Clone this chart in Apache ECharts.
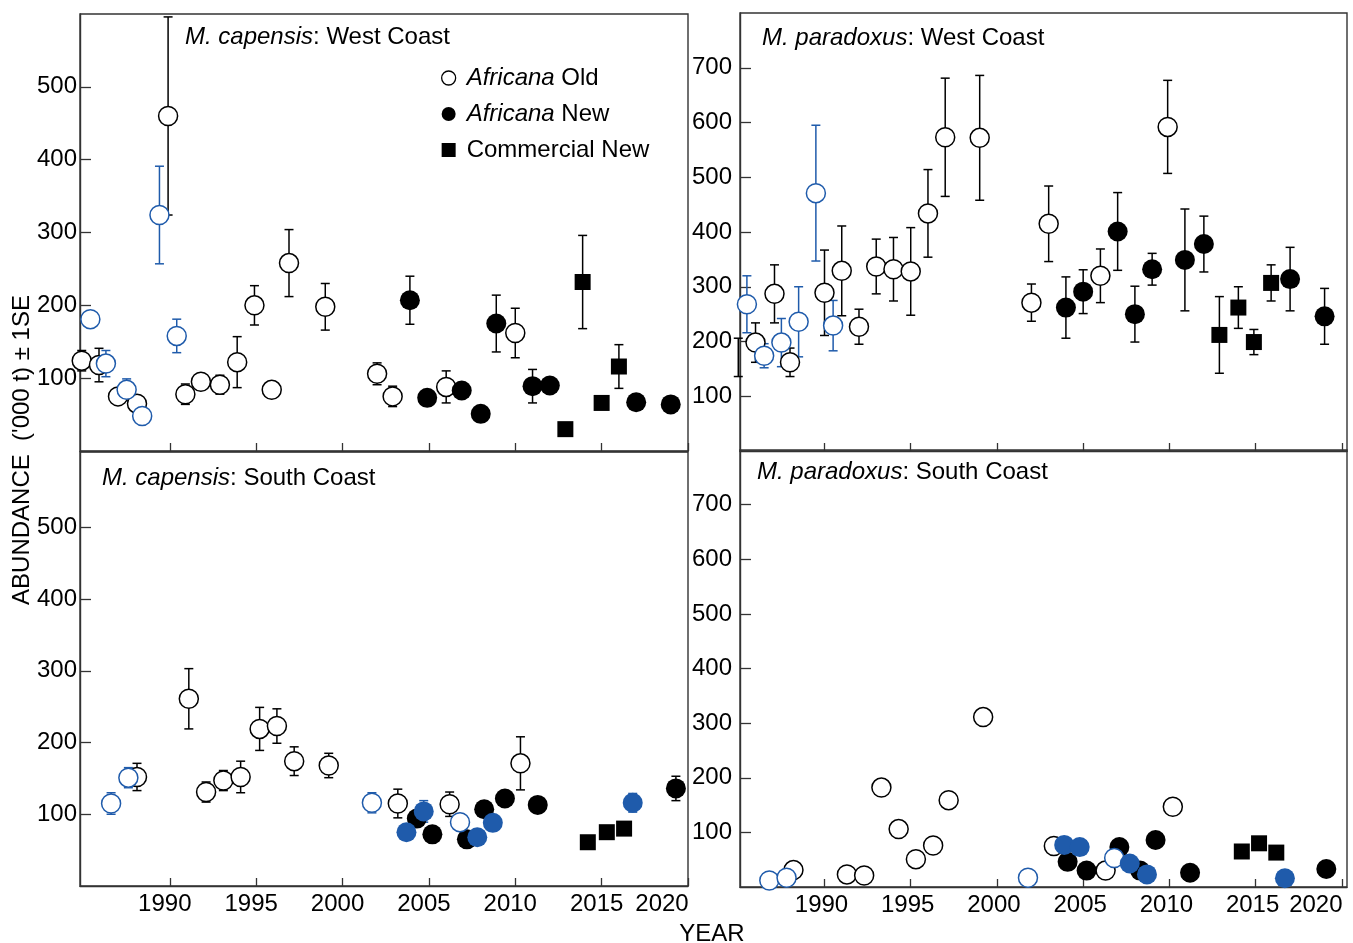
<!DOCTYPE html>
<html><head><meta charset="utf-8">
<script src="https://cdn.jsdelivr.net/npm/echarts@6/dist/echarts.min.js"></script>
<style>html,body{margin:0;padding:0;background:#fff}#c{width:1353px;height:943px}</style>
</head><body><div id="c"></div><script>
// ---------- DATA: [year, abundance ('000 t), 1SE] ----------
// M. capensis: West Coast
const capWestOld = [[1984.9,124,14],[1985.9,118,23],[1987.0,75,0],[1988.1,65,0],[1989.9,460,136],[1990.9,78,14],[1991.8,95,0],[1992.9,91,13],[1993.9,122,35],[1994.9,200,27],[1995.9,84,0],[1996.9,258,46],[1999.0,198,32],[2002.0,106,15],[2002.9,75,14],[2006.0,88,22],[2010.0,162,34]];
const capWestOldBlue = [[1985.4,181,0],[1986.3,120,18],[1987.5,84,15],[1988.4,48,0],[1989.4,324,67],[1990.4,158,23]];
const capWestNew = [[2003.9,207,33],[2004.9,73,0],[2006.9,83,0],[2008.0,51,0],[2008.9,175,39],[2011.0,89,23],[2012.0,90,0],[2017.0,67,0],[2019.0,64,0]];
const capWestCom = [[2012.9,30,0],[2013.9,232,64],[2015.0,66,0],[2016.0,116,30]];
// M. paradoxus: West Coast
const parWestOld = [[1985.0,171,35],[1986.0,198,36],[1987.1,287,53],[1988.0,162,26],[1990.0,289,78],[1991.0,329,82],[1992.0,227,32],[1993.0,337,50],[1994.0,332,58],[1995.0,328,80],[1996.0,434,80],[1997.0,573,108],[1999.0,572,114],[2002.0,271,34],[2003.0,415,69],[2006.0,320,49],[2009.9,592,85]];
const parWestOldBlue = [[1985.5,268,52],[1986.5,174,22],[1987.5,198,44],[1988.5,236,64],[1989.5,471,124],[1990.5,229,46]];
const parWestNew = [[2004.0,262,56],[2005.0,291,40],[2007.0,401,71],[2008.0,250,51],[2009.0,332,29],[2010.9,349,93],[2012.0,378,51],[2017.0,314,58],[2019.0,246,51]];
const parWestCom = [[2012.9,212,70],[2014.0,262,38],[2014.9,199,23],[2015.9,307,33]];
// M. capensis: South Coast
const capSouthOld = [[1988.1,152,19],[1991.1,261,42],[1992.1,131,14],[1993.1,147,14],[1994.1,152,22],[1995.2,219,30],[1996.2,223,24],[1997.2,174,20],[1999.2,168,17],[2003.2,115,20],[2006.2,114,17],[2010.3,171,37]];
const capSouthOldBlue = [[1986.6,115,15],[1987.6,151,14],[2001.7,116,14],[2006.8,89,0]];
const capSouthNew = [[2004.3,94,0],[2005.2,72,0],[2007.2,65,0],[2008.2,107,0],[2009.4,122,0],[2011.3,113,0],[2019.3,136,17]];
const capSouthNewBlue = [[2003.7,75,0],[2004.7,104,15],[2007.8,68,0],[2008.7,88,0],[2016.8,116,13]];
const capSouthCom = [[2014.2,61,0],[2015.3,75,0],[2016.3,80,0]];
// M. paradoxus: South Coast
const parSouthOld = [[1988.2,31],[1991.3,23],[1992.3,21],[1993.3,182],[1994.3,106],[1995.3,51],[1996.3,76],[1997.2,159],[1999.2,311],[2003.3,75],[2006.3,30],[2010.2,147]];
const parSouthOldBlue = [[1986.8,12],[1987.8,17],[2001.8,17],[2006.8,53]];
const parSouthNew = [[2004.1,46],[2005.2,30],[2007.1,73],[2008.3,30],[2009.2,86],[2011.2,26],[2019.1,33]];
const parSouthNewBlue = [[2003.9,77],[2004.8,73],[2007.7,43],[2008.7,23],[2016.7,16]];
const parSouthCom = [[2014.2,65],[2015.2,80],[2016.2,63]];

// tick labels
const xTickYears = [1990,1995,2000,2005,2010,2015,2020];
const yTicksCap = [100,200,300,400,500];
const yTicksPar = [100,200,300,400,500,600,700];
const panelTitles = [['M. capensis',': West Coast'],['M. paradoxus',': West Coast'],['M. capensis',': South Coast'],['M. paradoxus',': South Coast']];

// ---------- STYLE / LAYOUT ----------
const FONT = '"Liberation Sans", Arial, Helvetica, sans-serif';
const FS = 24;
const BLUE = '#1f5bab';
const AX = '#333';
const grids = [
  {left:80, top:14, width:608, height:437},
  {left:740, top:13, width:607, height:438},
  {left:80, top:452, width:608, height:434},
  {left:740, top:450, width:607, height:437}
];
const xRange = [[1984.8,2020],[1985.1,2020.3],[1984.8,2020],[1985.1,2020.3]];
const yMax = [600,800,605,800];
const yTicks = [yTicksCap,yTicksPar,yTicksCap,yTicksPar];
const titlePos = [[185,25],[762,26],[102,466],[757,460]];

const xAxes = grids.map((g,i)=>({
  gridIndex:i, type:'value', min:xRange[i][0], max:xRange[i][1],
  axisLine:{show:true, onZero:false, lineStyle:{color:AX, width:1.4}},
  splitLine:{show:false},
  axisTick:{show:true, inside:true, length:8, customValues:xTickYears, lineStyle:{color:AX, width:1.3}},
  axisLabel:{show:i>=2, customValues:xTickYears, margin:6, fontSize:FS, fontFamily:FONT, color:'#000',
    formatter:v=> v===2020 ? '{e|2020}' : '{t|'+v+'}',
    rich:{e:{padding:[0,52,0,0], fontSize:FS, fontFamily:FONT, color:'#000'},
          t:{padding:[0,i===2?10:6,0,0], fontSize:FS, fontFamily:FONT, color:'#000'}}}
}));
const yAxes = grids.map((g,i)=>({
  gridIndex:i, type:'value', min:0, max:yMax[i], interval:100,
  axisLine:{show:true, onZero:false, lineStyle:{color:AX, width:1.4}},
  splitLine:{show:false},
  axisTick:{show:true, inside:true, length:11, customValues:yTicks[i], lineStyle:{color:AX, width:1.3}},
  axisLabel:{customValues:yTicks[i], margin:i%2===0?3:8, fontSize:FS, fontFamily:FONT, color:'#000'}
}));

function errSeries(data, gi, color){
  return {type:'custom', xAxisIndex:gi, yAxisIndex:gi, z:2, silent:true, clip:false,
    data:data.filter(d=>d[2]>0), encode:{x:0,y:1},
    renderItem(params, api){
      const x=api.value(0), y=api.value(1), e=api.value(2);
      const p1=api.coord([x,y+e]), p2=api.coord([x,y-e]);
      const cw=4.5, st={stroke:color, lineWidth:1.5};
      return {type:'group', children:[
        {type:'line', shape:{x1:p1[0],y1:p1[1],x2:p2[0],y2:p2[1]}, style:st},
        {type:'line', shape:{x1:p1[0]-cw,y1:p1[1],x2:p1[0]+cw,y2:p1[1]}, style:st},
        {type:'line', shape:{x1:p2[0]-cw,y1:p2[1],x2:p2[0]+cw,y2:p2[1]}, style:st}
      ]};
    }};
}
const kinds = {
  old:{name:'Africana Old', symbol:'circle', size:19, style:{color:'#fff', borderColor:'#000', borderWidth:1.5}, z:3},
  nw:{name:'Africana New', symbol:'circle', size:20, style:{color:'#000'}, z:3},
  com:{name:'Commercial New', symbol:'rect', size:16, style:{color:'#000'}, z:3},
  oldB:{name:'Africana Old (blue)', symbol:'circle', size:19, style:{color:'#fff', borderColor:BLUE, borderWidth:1.5}, z:4},
  nwB:{name:'Africana New (blue)', symbol:'circle', size:20, style:{color:BLUE}, z:4}
};
function dots(kind, data, gi){
  const k=kinds[kind];
  return {type:'scatter', name:k.name, xAxisIndex:gi, yAxisIndex:gi, z:k.z, symbol:k.symbol, symbolSize:k.size,
    itemStyle:Object.assign({opacity:1}, k.style), emphasis:{disabled:true}, silent:true,
    data:data.map(d=>[d[0],d[1]])};
}
const panels = [
  [['old',capWestOld,'#000'],['nw',capWestNew,'#000'],['com',capWestCom,'#000'],['oldB',capWestOldBlue,BLUE]],
  [['old',parWestOld,'#000'],['nw',parWestNew,'#000'],['com',parWestCom,'#000'],['oldB',parWestOldBlue,BLUE]],
  [['old',capSouthOld,'#000'],['nw',capSouthNew,'#000'],['com',capSouthCom,'#000'],['oldB',capSouthOldBlue,BLUE],['nwB',capSouthNewBlue,BLUE]],
  [['old',parSouthOld,'#000'],['nw',parSouthNew,'#000'],['com',parSouthCom,'#000'],['oldB',parSouthOldBlue,BLUE],['nwB',parSouthNewBlue,BLUE]]
];
const series=[];
panels.forEach((p,gi)=>{
  p.forEach(([kind,data,col])=>{
    if (data.some(d=>d[2]>0)) series.push(errSeries(data,gi,col));
    series.push(dots(kind,data,gi));
  });
});

const titles = panelTitles.map((t,i)=>({
  text:'{i|'+t[0]+'}{n|'+t[1]+'}', left:titlePos[i][0], top:titlePos[i][1], padding:0,
  textStyle:{fontSize:FS, fontWeight:'normal', fontFamily:FONT, color:'#000',
    rich:{i:{fontStyle:'italic', fontSize:FS, fontFamily:FONT, color:'#000'}, n:{fontSize:FS, fontFamily:FONT, color:'#000'}}}
}));

const chart = echarts.init(document.getElementById('c'), null, {renderer:'canvas'});
chart.setOption({
  animation:false,
  backgroundColor:'#fff',
  title:titles,
  grid:grids.map(g=>Object.assign({show:true, borderColor:AX, borderWidth:1.4, containLabel:false}, g)),
  xAxis:xAxes, yAxis:yAxes,
  legend:{orient:'vertical', left:441, top:66, padding:0, itemWidth:14, itemHeight:14, itemGap:12, selectedMode:false,
    data:[
      {name:'Africana Old', icon:'circle', itemStyle:{color:'#fff', borderColor:'#000', borderWidth:1.3}},
      {name:'Africana New', icon:'circle', itemStyle:{color:'#000', borderWidth:0}},
      {name:'Commercial New', icon:'rect', itemStyle:{color:'#000', borderWidth:0}}
    ],
    formatter:n=> n==='Commercial New' ? '{c|Commercial New}' : '{i|Africana}{n| '+n.split(' ')[1]+'}',
    textStyle:{fontSize:FS, fontFamily:FONT, color:'#000', lineHeight:24,
      rich:{i:{fontStyle:'italic', fontSize:FS, fontFamily:FONT, color:'#000', padding:[0,0,0,6], lineHeight:24},
            n:{fontSize:FS, fontFamily:FONT, color:'#000', lineHeight:24},
            c:{fontSize:FS, fontFamily:FONT, color:'#000', padding:[0,0,0,6], lineHeight:24}}}
  },
  graphic:[
    {type:'text', x:22, y:450, rotation:Math.PI/2, style:{text:"ABUNDANCE  ('000 t) \u00b1 1SE", font:FS+'px '+FONT, fill:'#000', align:'center', verticalAlign:'middle'}},
    {type:'text', x:712, y:934, style:{text:'YEAR', font:FS+'px '+FONT, fill:'#000', align:'center', verticalAlign:'middle'}}
  ],
  series:series
});
</script></body></html>
